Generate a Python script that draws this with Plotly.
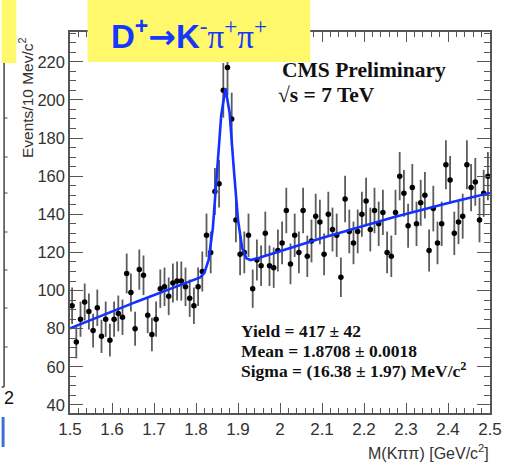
import numpy as np
import plotly.graph_objects as go

# ---- data ----
bin_centers = [round(1.505 + 0.01 * i, 3) for i in range(100)]
counts = [
    92, 73, 85, 94, 89, 79, 91, 76, 85, 74,
    85, 88, 86, 109, 99, 80, 111, 108, 87, 77,
    85, 101, 102, 97, 104, 105, 105, 102, 96, 92,
    102, 110, 129, 120, 152, 156, 205, 217, 190, 137,
    119, 120, 129, 101, 116, 113, 130, 113, 112, 121,
    125, 142, 114, 129, 120, 142, 118, 126, 139, 136,
    119, 140, 132, 129, 107, 148, 131, 125, 131, 140,
    147, 132, 142, 135, 141, 120, 118, 141, 160, 151,
    134, 154, 135, 146, 150, 121, 143, 125, 135, 166,
    158, 130, 136, 139, 166, 154, 157, 137, 151, 160,
]
assert len(counts) == len(bin_centers)
errors = np.sqrt(np.array(counts, dtype=float))

# fit curve parameters (as drawn)
fit_mean = 1.870
fit_sigma = 0.0180
fit_amp = 95.0
bg_c0, bg_c1, bg_c2 = 80.2, 91.0, -20.0  # background in (m - 1.5)

x_ticks = [1.5, 1.6, 1.7, 1.8, 1.9, 2.0, 2.1, 2.2, 2.3, 2.4, 2.5]
x_ticktext = ["1.5", "1.6", "1.7", "1.8", "1.9", "2", "2.1", "2.2", "2.3", "2.4", "2.5"]

title_text = ("<b>D<sup>+</sup></b><span style='font-family:DejaVu Sans'><b>→</b></span><b>K</b>"
              "<span style='font-family:Liberation Serif'><sup>-</sup>π<sup>+</sup>π<sup>+</sup></span>")
fit_lines = ["Yield = 417 ± 42", "Mean = 1.8708 ± 0.0018", "Sigma = (16.38 ± 1.97) MeV/c<sup>2</sup>"]

# ---- layout geometry ----
W, H = 514, 463
L, R, T, B = 70, 500, 32, 413


def px(x):
    return (x - L) / (R - L)


def py(y):
    return (B - y) / (B - T)


xf = np.linspace(1.5, 2.5, 101)
dm = xf - 1.5
yf = bg_c0 + bg_c1 * dm + bg_c2 * dm ** 2 + fit_amp * np.exp(-0.5 * ((xf - fit_mean) / fit_sigma) ** 2)

fig = go.Figure()
fig.add_trace(go.Scatter(
    x=bin_centers, y=counts, mode="markers",
    marker=dict(color="black", size=5.5),
    error_y=dict(type="data", array=errors, width=0, thickness=1.8, color="#5c5c5c"),
    showlegend=False, hoverinfo="skip",
))
fig.add_trace(go.Scatter(
    x=xf, y=yf, mode="lines", line=dict(color="#1432ff", width=2.6),
    showlegend=False, hoverinfo="skip",
))

axis_col = "#555555"
fig.update_layout(
    width=W, height=H,
    margin=dict(l=L, r=W - R, t=T, b=H - B, pad=0),
    paper_bgcolor="white", plot_bgcolor="white",
    font=dict(family="Liberation Sans", color="#333333"),
    xaxis=dict(
        range=[1.5, 2.5], tickmode="array", tickvals=x_ticks, ticktext=x_ticktext,
        ticks="inside", ticklen=10, tickwidth=1, tickcolor=axis_col,
        showline=True, linecolor=axis_col, linewidth=1.5, mirror="ticks",
        showgrid=False, zeroline=False,
        tickfont=dict(size=17, color="#333333"),
        minor=dict(dtick=0.02, tick0=1.5, ticklen=5, ticks="inside", tickcolor=axis_col, showgrid=False),
    ),
    yaxis=dict(
        range=[35.8, 235.6], tick0=0, dtick=20,
        ticks="inside", ticklen=13, tickwidth=1, tickcolor=axis_col,
        showline=True, linecolor=axis_col, linewidth=1.5, mirror="ticks",
        showgrid=False, zeroline=False,
        tickfont=dict(size=16.5, color="#333333"),
        minor=dict(dtick=5, tick0=0, ticklen=6.5, ticks="inside", tickcolor=axis_col, showgrid=False),
    ),
)

shapes = [
    dict(type="rect", xref="paper", yref="paper", x0=px(88), x1=px(316), y0=py(62), y1=py(0),
         fillcolor="#fff86b", line=dict(width=0), layer="above"),
    dict(type="rect", xref="paper", yref="paper", x0=px(0), x1=px(15), y0=py(63), y1=py(0),
         fillcolor="#fff86b", line=dict(width=0), layer="above"),
    dict(type="line", xref="paper", yref="paper", x0=px(2.5), x1=px(2.5), y0=py(387), y1=py(63),
         line=dict(color="#444444", width=1.5), layer="above"),
    dict(type="line", xref="paper", yref="paper", x0=px(0), x1=px(2.5), y0=py(387), y1=py(387),
         line=dict(color="#444444", width=1.5), layer="above"),
    dict(type="rect", xref="paper", yref="paper", x0=px(0), x1=px(3), y0=py(447), y1=py(417),
         fillcolor="#3a6fd0", line=dict(width=0), layer="above"),
]
for yy in [118, 157, 193, 232, 270, 308, 347]:
    shapes.append(dict(type="line", xref="paper", yref="paper", x0=px(2.5), x1=px(6), y0=py(yy), y1=py(yy),
                       line=dict(color="#444444", width=1), layer="above"))
fig.update_layout(shapes=shapes)

ann = []
ann.append(dict(text=title_text, x=px(192), y=py(35), xref="paper", yref="paper", showarrow=False,
                xanchor="center", yanchor="middle", font=dict(size=33, color="#1438ff", family="Liberation Sans")))
ann.append(dict(text="<b>CMS Preliminary</b>", x=px(285), y=py(70), xref="paper", yref="paper", showarrow=False,
                xanchor="left", yanchor="middle", font=dict(size=21.5, color="#111111", family="Liberation Serif")))
ann.append(dict(text="<b>√s = 7 TeV</b>", x=px(281), y=py(95), xref="paper", yref="paper", showarrow=False,
                xanchor="left", yanchor="middle", font=dict(size=21.5, color="#111111", family="Liberation Serif")))
for i, t in enumerate(fit_lines):
    ann.append(dict(text="<b>" + t + "</b>", x=px(243), y=py(331 + 19.5 * i), xref="paper", yref="paper",
                    showarrow=False, xanchor="left", yanchor="middle",
                    font=dict(size=17.5, color="#111111", family="Liberation Serif")))
ann.append(dict(text="Events/10 Mev/c<sup>2</sup>", x=px(25), y=py(98), xref="paper", yref="paper", showarrow=False,
                textangle=-90, xanchor="center", yanchor="middle",
                font=dict(size=15.5, color="#333333", family="Liberation Sans")))
ann.append(dict(text="M(Kππ) [GeV/c<sup>2</sup>]", x=px(501), y=py(452), xref="paper", yref="paper",
                showarrow=False, xanchor="right", yanchor="middle",
                font=dict(size=16, color="#333333", family="Liberation Sans")))
ann.append(dict(text="2", x=px(0), y=py(398), xref="paper", yref="paper", showarrow=False,
                xanchor="left", yanchor="middle", font=dict(size=18, color="#111111", family="Liberation Sans")))
fig.update_layout(annotations=ann)

fig.write_html("out.html")
